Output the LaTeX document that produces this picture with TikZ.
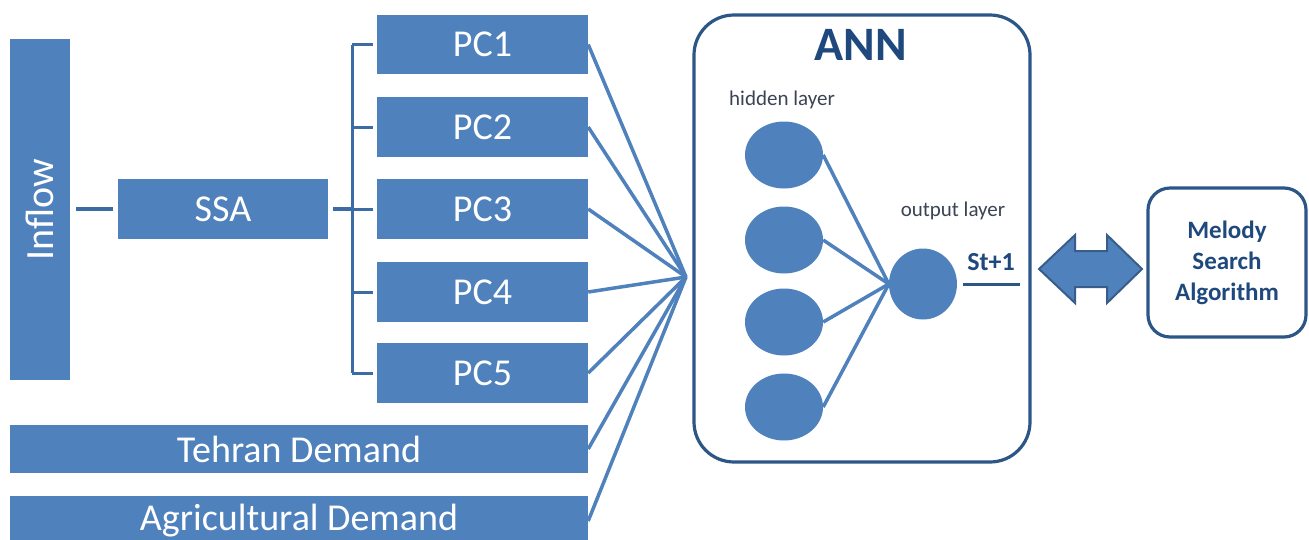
\documentclass[tikz,border=0pt]{standalone}
\usepackage{fontspec}
\setmainfont{Carlito}
\usetikzlibrary{shapes.geometric}
\definecolor{boxblue}{HTML}{4F81BD}
\definecolor{navy}{HTML}{2C5686}
\definecolor{titleblue}{HTML}{1F497D}
\definecolor{labelgrey}{HTML}{3B4454}
\definecolor{linkblue}{HTML}{3C6CA6}
\definecolor{arrowedge}{HTML}{385D8A}
\tikzset{
  databox/.style={fill=boxblue, draw=none, inner sep=0pt, text=white,
    font=\fontsize{38}{44}\selectfont},
  neuron/.style={ellipse, fill=boxblue, draw=none, inner sep=0pt},
  fanline/.style={draw=boxblue, line width=3.5pt},
  treeline/.style={draw=linkblue, line width=3pt},
  panel/.style={draw=navy, line width=3.2pt, fill=white},
  smalllabel/.style={text=labelgrey, font=\fontsize{21}{24}\selectfont},
}
\begin{document}
\begin{tikzpicture}[x=1pt,y=-1pt]
\useasboundingbox (0,0) rectangle (1309,539);
\fill[white] (0,0) rectangle (1309,539);

% input series
\node[databox, minimum width=60pt, minimum height=341pt] (inflow) at (40,209.5)
  {\rotatebox{90}{\fontsize{40}{44}\selectfont Inflow}};
\node[databox, minimum width=210pt, minimum height=60pt] (ssa) at (223,209) {SSA};
\node[databox, minimum width=211pt, minimum height=59pt] (pc1) at (482.5,44.5) {PC1};
\node[databox, minimum width=211pt, minimum height=60pt] (pc2) at (482.5,127) {PC2};
\node[databox, minimum width=211pt, minimum height=60pt] (pc3) at (482.5,209) {PC3};
\node[databox, minimum width=211pt, minimum height=60pt] (pc4) at (482.5,292) {PC4};
\node[databox, minimum width=211pt, minimum height=60pt] (pc5) at (482.5,373) {PC5};
\node[databox, minimum width=578pt, minimum height=48pt] (tehran) at (299,449) {Tehran Demand};
\node[databox, minimum width=578pt, minimum height=50pt] (agri) at (299,521) {Agricultural Demand};

% decomposition tree
\coordinate (bt) at (352,44.5);
\coordinate (bb) at (352,373);
\draw[treeline, line width=4pt, shorten <=6pt, shorten >=5pt] (inflow.east |- ssa.west) -- (ssa.west);
\draw[treeline, line width=4pt, shorten <=5pt] (ssa.east) -- (ssa.east -| bt);
\draw[treeline] (bt) -- (bb);
\foreach \p in {pc1,pc2,pc3,pc4,pc5}
  \draw[treeline, shorten >=4pt] (\p.west -| bt) -- (\p.west);

% ANN panel
\node[panel, rounded corners=40pt, minimum width=336pt, minimum height=447pt] (ann) at (862,238.5) {};
\node[text=titleblue, font=\fontsize{48}{52}\selectfont\bfseries] (anntitle) at (861,45) {ANN};
\node[smalllabel] (hidlab) at (782,100) {hidden layer};
\node[smalllabel] (outlab) at (953,211) {output layer};

% inputs converge on the network
\coordinate (hub) at (686,277);
\foreach \s in {pc1,pc2,pc3,pc4,pc5,tehran,agri}
  \draw[fanline] (\s.east) -- (hub);

% neurons
\foreach \i/\y in {1/155,2/240,3/322,4/407}
  \node[neuron, minimum width=78pt, minimum height=67pt] (h\i) at (784,\y) {};
\node[neuron, minimum width=68pt, minimum height=71pt] (out) at (923,284) {};
\foreach \i in {1,2,3,4}
  \draw[fanline] (h\i.east) -- (out.west);

% network output
\coordinate (stend) at (1020,284);
\draw[draw=navy, line width=3pt, shorten <=6pt] (out.east) -- (stend);
\node[text=titleblue, font=\fontsize{26}{30}\selectfont\bfseries] (st) at (991,262) {St+1};

% optimiser
\node[panel, rounded corners=22pt, minimum width=158pt, minimum height=149pt,
  align=center, text=titleblue, font=\fontsize{25}{31}\selectfont\bfseries] (melody) at (1227,262.5)
  {Melody\\Search\\Algorithm};

% two-way exchange between network and optimiser
\draw[fill=boxblue, draw=arrowedge, line width=2pt, line join=miter]
  (1039,269) -- (1075,235) -- (1075,251) -- (1107,251) -- (1107,235) -- (1142,269)
  -- (1107,303) -- (1107,287) -- (1075,287) -- (1075,303) -- cycle;
\end{tikzpicture}
\end{document}
